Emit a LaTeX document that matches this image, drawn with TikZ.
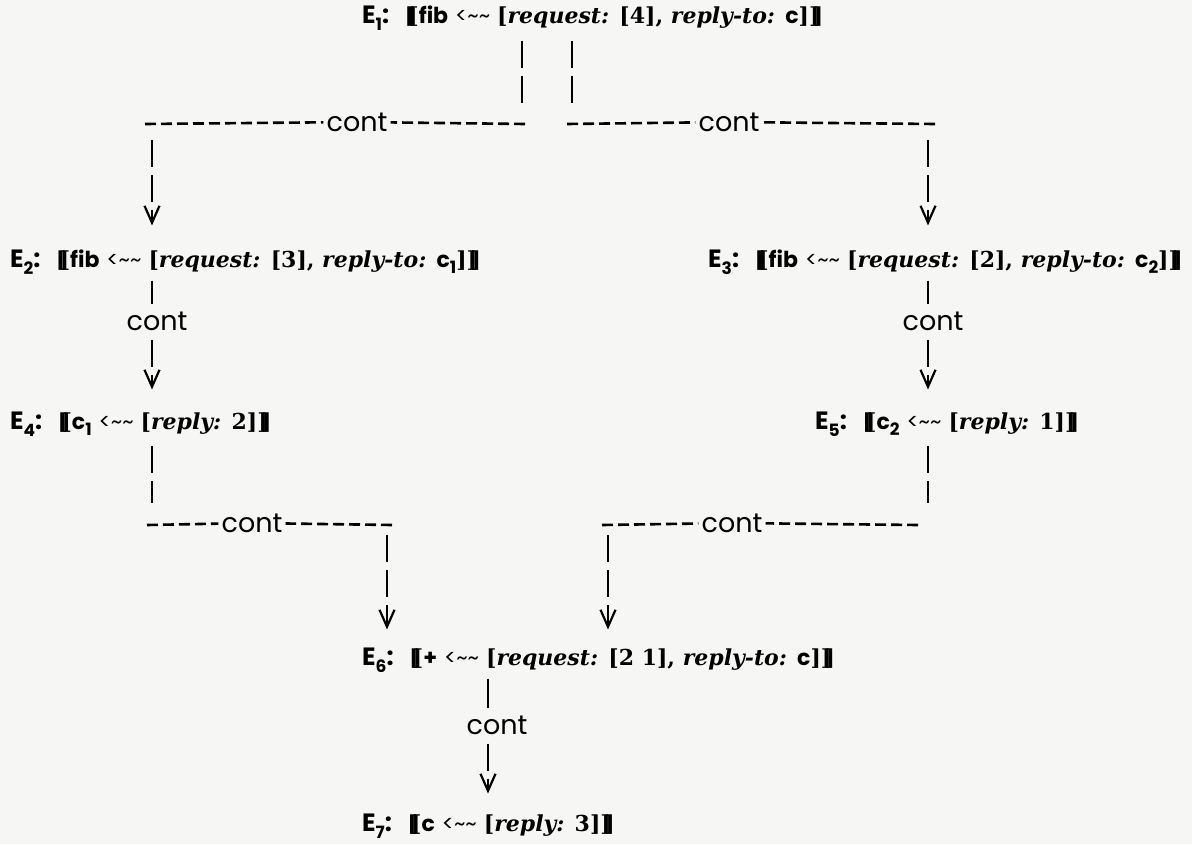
\documentclass[tikz,border=0pt]{standalone}
\usepackage{fontspec}
\usetikzlibrary{arrows.meta}
\setmainfont{DejaVu Serif}
\newfontfamily\gothfont{Poppins}
\definecolor{paper}{RGB}{246,246,244}
\newcommand{\openbr}{{\bfseries[\kern-0.3em[}}
\newcommand{\closebr}{{\bfseries]\kern-0.3em]}}
\newcommand{\sub}[1]{\raisebox{-0.28em}{\fontsize{17}{17}\selectfont #1}}
\newcommand{\ev}[1]{{\gothfont\bfseries\fontsize{25}{28}\selectfont E\sub{#1}:}\hspace{0.7em}}
\newcommand{\snd}{\ {\gothfont<\textasciitilde\textasciitilde}\ }
\newcommand{\gs}[1]{{\gothfont\bfseries #1}}
\newcommand{\req}[2]{{\bfseries[\textit{request:} [#1], \textit{reply-to:} \gs{#2}]}}
\newcommand{\rep}[1]{{\bfseries[\textit{reply:} #1]}}

\begin{document}
\begin{tikzpicture}[x=1pt, y=-1pt,
	expr/.style={anchor=west, inner sep=0pt, font=\fontsize{22}{26}\selectfont},
	lbl/.style={inner sep=3pt, font=\gothfont\fontsize{27}{30}\selectfont},
	bar/.style={line width=2.4pt, dash pattern=on 27pt off 8pt},
	stub/.style={line width=2.4pt},
	dashrow/.style={line width=2.6pt, dash pattern=on 11pt off 5pt},
	tip/.style={-{Straight Barb[length=17pt,width=15pt,line width=2.2pt]}}]
	\useasboundingbox[fill=paper] (0,0) rectangle (1192,844);
	
	% the events
	\node[expr] (E1) at (362,18) {\ev{1}\openbr\gs{fib}\snd\req{4}{c}\closebr};
	\node[expr] (E2) at (10,262) {\ev{2}\openbr\gs{fib}\snd\req{3}{c\sub{1}}\closebr};
	\node[expr] (E3) at (708,262) {\ev{3}\openbr\gs{fib}\snd\req{2}{c\sub{2}}\closebr};
	\node[expr] (E4) at (10,424) {\ev{4}\openbr\gs{c\sub{1}}\snd\rep{2}\closebr};
	\node[expr] (E5) at (815,424) {\ev{5}\openbr\gs{c\sub{2}}\snd\rep{1}\closebr};
	\node[expr] (E6) at (362,660) {\ev{6}\openbr\gs{+}\snd\req{2 1}{c}\closebr};
	\node[expr] (E7) at (362,826) {\ev{7}\openbr\gs{c}\snd\rep{3}\closebr};
	
	% E1 forks into E2 and E3
	\coordinate (t1) at (522,103);
	\coordinate (t2) at (572,103);
	\coordinate (r1) at (145,124);
	\coordinate (r2) at (525,124);
	\coordinate (r3) at (567,124);
	\coordinate (r4) at (935,124);
	\coordinate (d1) at (152,140);
	\coordinate (d2) at (928,140);
	\node[lbl] (k1) at (357,122) {cont};
	\node[lbl] (k2) at (729,122) {cont};
	\draw[bar, shorten <=10pt] (E1.south -| t1) -- (t1);
	\draw[bar, shorten <=10pt] (E1.south -| t2) -- (t2);
	\draw[dashrow] (r1) -- (k1);
	\draw[dashrow] (r2) -- (k1);
	\draw[dashrow] (r3) -- (k2);
	\draw[dashrow] (r4) -- (k2);
	\draw[bar, tip, shorten >=24pt] (d1) -- (E2.north -| d1);
	\draw[bar, tip, shorten >=24pt] (d2) -- (E3.north -| d2);
	
	% E2 to E4, E3 to E5
	\node[lbl] (k3) at (157,321) {cont};
	\node[lbl] (k4) at (933,321) {cont};
	\draw[stub, shorten <=6pt, shorten >=4pt] (E2.south -| d1) -- (k3.north -| d1);
	\draw[stub, shorten <=6pt, shorten >=4pt] (E3.south -| d2) -- (k4.north -| d2);
	\draw[bar, tip, shorten <=6pt, shorten >=22pt] (k3.south -| d1) -- (E4.north -| d1);
	\draw[bar, tip, shorten <=6pt, shorten >=22pt] (k4.south -| d2) -- (E5.north -| d2);
	
	% E4 and E5 join into E6
	\coordinate (j1) at (152,503);
	\coordinate (j2) at (928,503);
	\coordinate (r5) at (147,525);
	\coordinate (r6) at (392,525);
	\coordinate (r7) at (602,525);
	\coordinate (r8) at (918,525);
	\coordinate (u1) at (387,535);
	\coordinate (u2) at (608,535);
	\node[lbl] (k5) at (252,523) {cont};
	\node[lbl] (k6) at (732,523) {cont};
	\draw[bar, shorten <=10pt] (E4.south -| j1) -- (j1);
	\draw[bar, shorten <=10pt] (E5.south -| j2) -- (j2);
	\draw[dashrow] (r5) -- (k5);
	\draw[dashrow] (r6) -- (k5);
	\draw[dashrow] (r7) -- (k6);
	\draw[dashrow] (r8) -- (k6);
	\draw[bar, tip, shorten >=18pt] (u1) -- (E6.north -| u1);
	\draw[bar, tip, shorten >=18pt] (u2) -- (E6.north -| u2);
	
	% E6 to E7
	\coordinate (v1) at (488,0);
	\node[lbl] (k7) at (497,725) {cont};
	\draw[stub, shorten <=6pt, shorten >=4pt] (E6.south -| v1) -- (k7.north -| v1);
	\draw[bar, tip, shorten <=6pt, shorten >=20pt] (k7.south -| v1) -- (E7.north -| v1);
\end{tikzpicture}
\end{document}
